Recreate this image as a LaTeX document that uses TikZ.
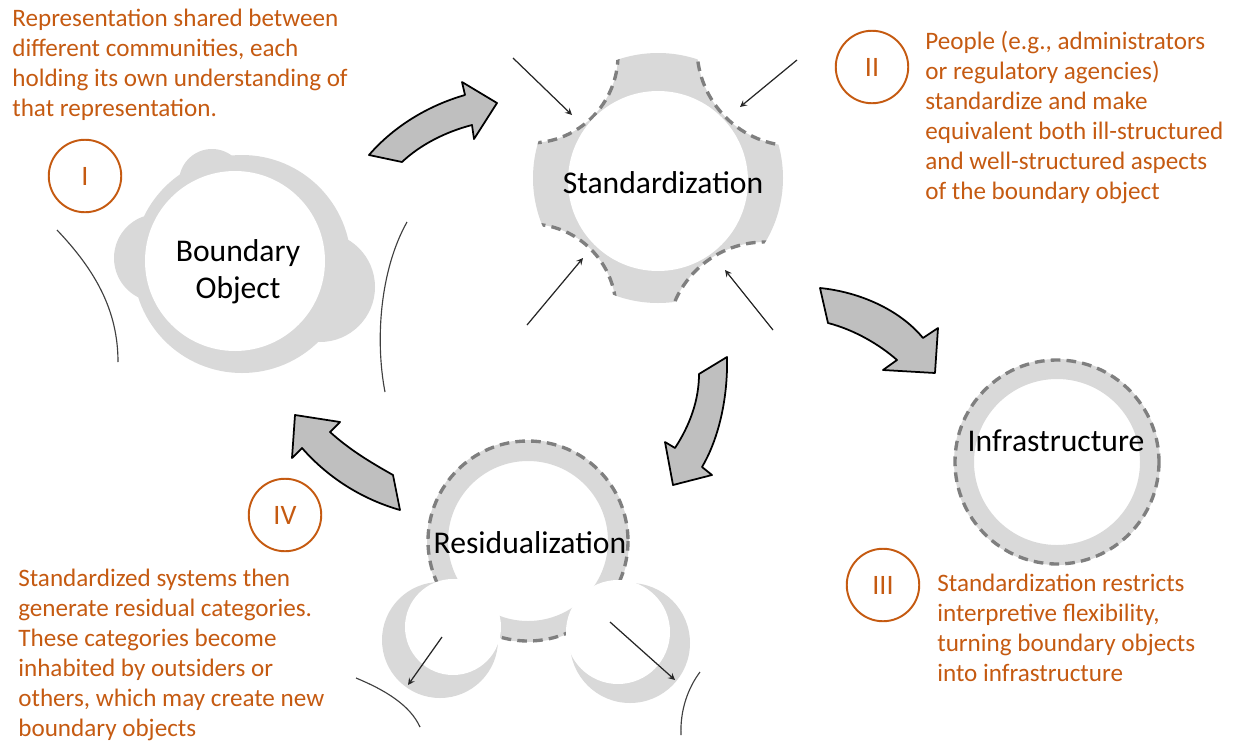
\documentclass[tikz,border=0pt]{standalone}
\usepackage{fontspec}
\setmainfont{Carlito}
\definecolor{txtorange}{RGB}{197,90,17}
\definecolor{ringgray}{RGB}{217,217,217}
\definecolor{dashgray}{RGB}{127,127,127}
\definecolor{arrowgray}{RGB}{191,191,191}
\begin{document}
\begin{tikzpicture}[x=0.02cm,y=-0.02cm,>=stealth,
	dashring/.style={draw=dashgray,line width=1.9pt,dash pattern=on 5.5pt off 3.5pt},
	blockarrow/.style={fill=arrowgray,draw=black,line width=1pt,line join=round},
	thinline/.style={draw=black!75,line width=0.65pt},
	ptr/.style={->,black!85,line width=0.7pt},
	numcirc/.style={circle,draw=txtorange,line width=1.1pt,minimum size=1.45cm,inner sep=0pt,text=txtorange,font=\fontsize{16}{18}\selectfont},
	notetext/.style={anchor=north west,inner sep=0pt,align=left,text=txtorange,font=\fontsize{14.3}{17}\selectfont},
	stagename/.style={inner sep=0pt,align=center,font=\fontsize{18}{21}\selectfont}]
	\useasboundingbox (0,0) rectangle (1235,741);
	% boundary object
	\fill[ringgray] (242,264) circle (109) (158,258) circle (44) (320,287) circle (55) (212,182) circle (33);
	\fill[white] (235,261) circle (90);
	\draw[thinline] (57,230) .. controls (95,270) and (118,310) .. (118,362);
	\draw[thinline] (407,222) .. controls (380,270) and (375,340) .. (385,392);
	% standardization
	\begin{scope}
		\clip (658,178) circle (125);
		\fill[ringgray,even odd rule] (500,20) rectangle (820,340) (530,55) circle (88) (795,48) circle (98) (530,310) circle (86) (765,340) circle (98);
		\draw[dashring] (530,55) circle (88) (795,48) circle (98) (530,310) circle (86) (765,340) circle (98);
	\end{scope}
	\fill[white] (658,181) circle (90);
	\draw[ptr] (513,58) -- (572,115);
	\draw[ptr] (797,60) -- (740,107);
	\draw[ptr] (527,325) -- (583,258);
	\draw[ptr] (773,330) -- (725,270);
	% infrastructure
	\fill[ringgray,even odd rule] (1057,462) circle (103) (1057,462) circle (83);
	\draw[dashring] (1057,462) circle (102);
	% residualization
	\fill[ringgray,even odd rule] (528,541) circle (101) (528,541) circle (80);
	\draw[dashring] (528,541) circle (100);
	\fill[ringgray] (440,640) circle (58) (630,643) circle (60);
	\fill[white] (453,627) circle (48) (618,632) circle (52);
	\draw[ptr] (442,637) -- (408,685);
	\draw[ptr] (610,622) -- (675,680);
	\draw[thinline] (356,678) .. controls (385,690) and (410,705) .. (420,727);
	\draw[thinline] (700,672) .. controls (688,688) and (680,710) .. (681,735);
	% block arrows
	\draw[blockarrow] (369,155) .. controls (395,125) and (430,105) .. (465,95) -- (462,82) -- (497,103) -- (474,139) -- (472,125) .. controls (445,132) and (420,145) .. (402,162) -- cycle;
	\draw[blockarrow] (699,374) -- (727,357) .. controls (728,400) and (718,440) .. (702,467) -- (712,475) -- (673,485) -- (665,442) -- (675,448) .. controls (690,425) and (699,400) .. (699,374) -- cycle;
	\draw[blockarrow] (820,288) .. controls (860,292) and (900,310) .. (923,338) -- (938,328) -- (935,373) -- (883,370) -- (897,360) .. controls (880,345) and (855,330) .. (828,323) -- cycle;
	\draw[blockarrow] (393,475) -- (400,510) .. controls (365,500) and (330,480) .. (302,448) -- (292,458) -- (295,415) -- (340,422) -- (330,432) .. controls (350,450) and (370,462) .. (393,475) -- cycle;
	% labels
	\node[stagename] (bo) at (238,272) {Boundary\\Object};
	\node[stagename] (std) at (663,183) {Standardization};
	\node[stagename] (inf) at (1056,441) {Infrastructure};
	\node[stagename] (res) at (530,543) {Residualization};
	\node[numcirc] (numI) at (85,176) {I};
	\node[numcirc] (numII) at (872,67) {II};
	\node[numcirc] (numIII) at (883,585) {III};
	\node[numcirc] (numIV) at (285,515) {IV};
	\node[notetext] (descI) at (12,9) {Representation shared between\\different communities, each\\holding its own understanding of\\that representation.};
	\node[notetext] (descII) at (925,31) {People (e.g., administrators\\or regulatory agencies)\\standardize and make\\equivalent both ill-structured\\and well-structured aspects\\of the boundary object};
	\node[notetext] (descIII) at (937,574) {Standardization restricts\\interpretive flexibility,\\turning boundary objects\\into infrastructure};
	\node[notetext] (descIV) at (18,569) {Standardized systems then\\generate residual categories.\\These categories become\\inhabited by outsiders or\\others, which may create new\\boundary objects};
\end{tikzpicture}
\end{document}
